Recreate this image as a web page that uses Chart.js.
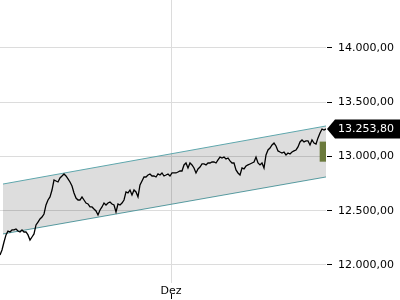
<!DOCTYPE html>
<html>
<head>
<meta charset="utf-8">
<script src="https://cdn.jsdelivr.net/npm/chart.js@4.4.1/dist/chart.umd.min.js"></script>
<style>
  html, body { margin: 0; padding: 0; background: #fff; }
  #wrap { width: 400px; height: 300px; }
</style>
</head>
<body>
<div id="wrap"><canvas id="chart"></canvas></div>
<script>
// Index price, one point per period
const prices = [
  12092, 12138, 12212, 12277, 12313, 12304, 12323, 12323, 12332, 12313,
  12304, 12323, 12304, 12304, 12277, 12230, 12258, 12286, 12369, 12396,
  12424, 12442, 12470, 12553, 12599, 12627, 12691, 12783, 12774, 12765,
  12802, 12820, 12839, 12820, 12793, 12765, 12728, 12664, 12617, 12599,
  12599, 12627, 12599, 12571, 12562, 12535, 12535, 12516, 12498, 12461,
  12507, 12535, 12571, 12553, 12571, 12581, 12562, 12553, 12489, 12562,
  12553, 12571, 12599, 12673, 12664, 12691, 12645, 12691, 12673, 12627,
  12737, 12774, 12811, 12811, 12829, 12839, 12820, 12820, 12811, 12839,
  12829, 12848, 12820, 12829, 12839, 12820, 12848, 12848, 12848, 12857,
  12866, 12866, 12922, 12940, 12894, 12940, 12922, 12894, 12848, 12885,
  12903, 12931, 12931, 12922, 12940, 12940, 12949, 12949, 12940, 12968,
  12995, 12986, 12995, 12977, 12986, 12959, 12940, 12940, 12876, 12848,
  12829, 12894, 12885, 12912, 12922, 12931, 12940, 12949, 12995, 12940,
  12922, 12940, 12894, 13014, 13060, 13078, 13106, 13124, 13097, 13051,
  13041, 13032, 13041, 13014, 13032, 13023, 13041, 13051, 13060, 13088,
  13134, 13152, 13134, 13143, 13143, 13106, 13152, 13124, 13115, 13171,
  13217, 13253, 13244, 13253.8
];

// Trend channel (start / end)
const channelX = [1.5, 163];
const channelUpper = [12746, 13281];
const channelLower = [12286, 12811];

// Event marker (floating bar)
const markerX = 161.5;
const markerRange = [12955, 13134];

// Axes
const yTicks = [12000, 12500, 13000, 13500, 14000];
const monthLabel = 'Dez';
const monthPos = 85.5;

function formatDe(v) {
  const parts = v.toFixed(2).split('.');
  const intPart = parts[0].replace(/\B(?=(\d{3})+(?!\d))/g, '.');
  return intPart + ',' + parts[1];
}

// Black price callout + small x tick under the month label
const lastPricePlugin = {
  id: 'lastPrice',
  afterDraw(chart) {
    const ctx = chart.ctx;
    const area = chart.chartArea;
    const y = chart.scales.y.getPixelForValue(prices[prices.length - 1]);
    const x0 = area.right + 1;
    ctx.save();
    ctx.fillStyle = '#000';
    ctx.beginPath();
    ctx.moveTo(x0, y);
    ctx.lineTo(x0 + 8, y - 9.5);
    ctx.lineTo(chart.width, y - 9.5);
    ctx.lineTo(chart.width, y + 9.5);
    ctx.lineTo(x0 + 8, y + 9.5);
    ctx.closePath();
    ctx.fill();
    ctx.fillStyle = '#fff';
    ctx.font = '11px "DejaVu Sans"';
    ctx.textBaseline = 'middle';
    ctx.textAlign = 'left';
    ctx.fillText(formatDe(prices[prices.length - 1]), area.right + 12, y + 0.5);

    const tx = Math.round(chart.scales.x.getPixelForValue(monthPos)) + 0.5;
    ctx.strokeStyle = '#000';
    ctx.lineWidth = 1;
    ctx.beginPath();
    ctx.moveTo(tx, area.bottom + 11);
    ctx.lineTo(tx, area.bottom + 16);
    ctx.stroke();
    ctx.restore();
  }
};

new Chart(document.getElementById('chart'), {
  type: 'line',
  data: {
    datasets: [
      {
        label: 'Kurs',
        data: prices.map((v, i) => ({ x: i, y: v })),
        borderColor: '#000',
        borderWidth: 1.3,
        pointRadius: 0,
        tension: 0,
        fill: false,
        order: 1
      },
      {
        type: 'bar',
        label: 'Ereignis',
        data: [{ x: markerX, y: markerRange }],
        backgroundColor: '#6b7a3c',
        barThickness: 6,
        order: 0
      },
      {
        label: 'Kanal oben',
        data: channelX.map((x, i) => ({ x: x, y: channelUpper[i] })),
        borderColor: '#5ea6ac',
        borderWidth: 1,
        pointRadius: 0,
        fill: '+1',
        backgroundColor: 'rgba(0,0,0,0.135)',
        order: 3
      },
      {
        label: 'Kanal unten',
        data: channelX.map((x, i) => ({ x: x, y: channelLower[i] })),
        borderColor: '#5ea6ac',
        borderWidth: 1,
        pointRadius: 0,
        fill: false,
        order: 3
      }
    ]
  },
  options: {
    responsive: true,
    maintainAspectRatio: false,
    animation: false,
    layout: { padding: 0 },
    plugins: {
      legend: { display: false },
      tooltip: { enabled: false }
    },
    scales: {
      x: {
        type: 'linear',
        min: 0,
        max: prices.length - 1,
        offset: false,
        afterBuildTicks: scale => { scale.ticks = [{ value: monthPos }]; },
        afterFit: scale => {
          scale.height = 17;
          scale.paddingLeft = 0;
          scale.paddingRight = 0;
        },
        grid: { color: '#dcdcdc', drawTicks: false, offset: false },
        border: { display: false },
        ticks: {
          padding: 2,
          color: '#000',
          font: { family: 'DejaVu Sans', size: 11 },
          maxRotation: 0,
          callback: () => monthLabel
        }
      },
      y: {
        position: 'right',
        min: 11834,
        max: 14442,
        afterBuildTicks: scale => { scale.ticks = yTicks.map(v => ({ value: v })); },
        afterFit: scale => {
          scale.width = 74;
          scale.paddingTop = 0;
          scale.paddingBottom = 0;
        },
        grid: {
          color: '#dcdcdc',
          tickColor: '#000',
          tickLength: 7,
          tickBorderDash: [0, 1, 5, 10]
        },
        border: { display: false },
        ticks: {
          padding: 5,
          color: '#000',
          font: { family: 'DejaVu Sans', size: 11 },
          callback: v => formatDe(v)
        }
      }
    }
  },
  plugins: [lastPricePlugin]
});
</script>
</body>
</html>
